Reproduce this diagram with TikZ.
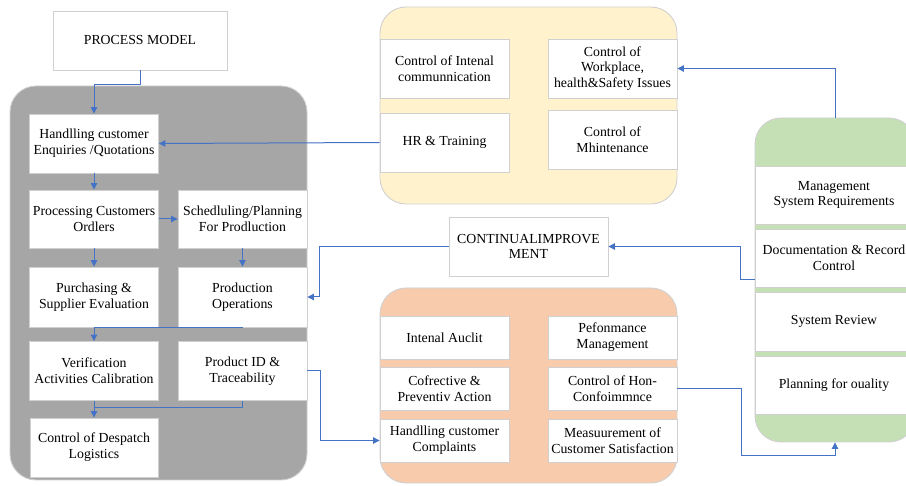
\documentclass[tikz,border=0pt]{standalone}
\usepackage{fontspec}
\setmainfont{Liberation Serif}
\usetikzlibrary{arrows.meta,calc}
\definecolor{boxline}{HTML}{D0D0D0}
\definecolor{grayp}{HTML}{A6A6A6}
\definecolor{yellowp}{HTML}{FFF2CC}
\definecolor{orangep}{HTML}{F8CBAD}
\definecolor{greenp}{HTML}{C5E0B4}
\definecolor{arrblue}{HTML}{4472C4}
\tikzset{
  bx/.style={draw=boxline, fill=white, line width=0.9pt, inner sep=0pt, align=center,
    font=\fontsize{13.8}{15.8}\selectfont},
  panel/.style={draw=boxline, line width=0.9pt, rounded corners=26pt, inner sep=0pt},
  ln/.style={draw=arrblue, line width=1pt},
  arr/.style={ln, -{Triangle[length=6.5pt,width=6.5pt]}}
}
\begin{document}
\begin{tikzpicture}[x=1pt,y=-1pt]
\useasboundingbox (0,0) rectangle (906,486);
\fill[white] (0,0) rectangle (906,486);
\clip (0,0) rectangle (906,486);

% panels
\node[panel, fill=grayp, minimum width=297pt, minimum height=394pt] (gpan) at (158.5,283) {};
\node[panel, fill=yellowp, minimum width=297pt, minimum height=197pt] (ypan) at (528.5,105.5) {};
\node[panel, fill=orangep, minimum width=297pt, minimum height=195pt] (opan) at (528.5,385.5) {};
\node[panel, fill=greenp, minimum width=160pt, minimum height=324pt] (gp) at (835,280) {};

% process model
\node[bx, minimum width=174pt, minimum height=59pt] (pm) at (140,40.5) {PROCESS MODEL};

% left panel boxes
\node[bx, minimum width=129pt, minimum height=59pt] (hand) at (94,143.5) {Handlling customer\\Enquiries /Quotations};
\node[bx, minimum width=129pt, minimum height=58pt] (proc) at (94,219) {Processing Customers\\Ordlers};
\node[bx, minimum width=129pt, minimum height=58pt] (sched) at (242.5,219) {Schedluling/Planning\\For Prodluction};
\node[bx, minimum width=129pt, minimum height=60pt] (purch) at (94,297) {Purchasing \&\\Supplier Evaluation};
\node[bx, minimum width=129pt, minimum height=60pt] (prodop) at (242.5,297) {Production\\Operations};
\node[bx, minimum width=129pt, minimum height=59pt] (verif) at (94,371) {Verification\\Activities Calibration};
\node[bx, minimum width=129pt, minimum height=59pt] (pid) at (242.5,371) {Product ID \&\\Traceability};
\node[bx, minimum width=128pt, minimum height=59pt] (desp) at (94,447.5) {Control of Despatch\\Logistics};

% yellow panel boxes
\node[bx, minimum width=129pt, minimum height=59pt] (icomm) at (444.5,68.5) {Control of Intenal\\communnication};
\node[bx, minimum width=129pt, minimum height=59pt] (hr) at (444.5,142.5) {HR \& Training};
\node[bx, minimum width=129pt, minimum height=59pt] (work) at (612.5,68.5) {Control of\\Workplace,\\health\&Safety Issues};
\node[bx, minimum width=129pt, minimum height=59pt] (maint) at (612.5,139.5) {Control of\\Mhintenance};

% continual improvement
\node[bx, minimum width=159pt, minimum height=59pt] (ci) at (528.5,246.5) {CONTINUALIMPROVE\\MENT};

% orange panel boxes
\node[bx, minimum width=129pt, minimum height=43pt] (audit) at (444.5,337.5) {Intenal Auclit};
\node[bx, minimum width=129pt, minimum height=43pt] (perf) at (612.5,337.5) {Pefonmance\\Management};
\node[bx, minimum width=129pt, minimum height=43pt] (corr) at (444.5,388.5) {Cofrective \&\\Preventiv Action};
\node[bx, minimum width=129pt, minimum height=43pt] (nonc) at (612.5,388.5) {Control of Hon-\\Confoimmnce};
\node[bx, minimum width=129pt, minimum height=43pt] (compl) at (444.5,440.5) {Handlling customer\\Complaints};
\node[bx, minimum width=129pt, minimum height=43pt] (meas) at (612.5,440.5) {Measuurement of\\Customer Satisfaction};

% green panel boxes
\node[bx, minimum width=158pt, minimum height=58pt] (msr) at (834,195) {Management\\System Requirements};
\node[bx, minimum width=158pt, minimum height=58pt] (doc) at (834,258) {Documentation \& Record\\Control};
\node[bx, minimum width=158pt, minimum height=59pt] (rev) at (834,321.5) {System Review};
\node[bx, minimum width=158pt, minimum height=58pt] (plan) at (834,385) {Planning for ouality};

% connectors
\draw[arr] (pm.south) -- ++(0,14) -| (hand.north);
\draw[arr] (hand.south) -- (proc.north);
\draw[arr] (proc.east) -- (sched.west);
\draw[arr] (proc.south) -- (purch.north);
\draw[arr] (sched.south) -- (prodop.north);
\draw[arr] (prodop.south) -| (verif.north);
\coordinate (j) at (94,408);
\draw[arr] (verif.south) -- (desp.north);
\draw[ln] (pid.south) |- (j);
\draw[arr] (hr.west) -- (hand.east);
\draw[arr] (gp.north) |- (work.east);
\draw[arr] ($(doc.west)+(0,22)$) -- ++(-14,0) |- (ci.east);
\draw[arr] (ci.west) -- ++(-129,0) |- (prodop.east);
\draw[arr] (pid.east) -- ++(13,0) |- (compl.west);
\coordinate (q) at (741,456);
\draw[arr] (nonc.east) -| (q) -| (gp.south);
\end{tikzpicture}
\end{document}
